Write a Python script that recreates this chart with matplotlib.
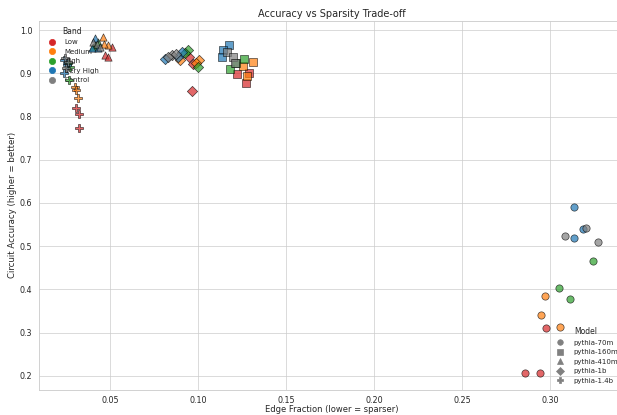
import numpy as np
import matplotlib
matplotlib.use("Agg")
import matplotlib.pyplot as plt
import seaborn as sns
from matplotlib.lines import Line2D

# categories
bands = ["Low", "Medium", "High", "Very High", "Control"]
models = ["pythia-70m", "pythia-160m", "pythia-410m", "pythia-1b", "pythia-1.4b"]

# each model has 3 runs per band, in the order of `bands`
point_bands = [b for b in bands for _ in range(3)]

# edge fraction / circuit accuracy
edge_70m = [0.2979, 0.2858, 0.2942, 0.2970, 0.2949, 0.3055, 0.3243, 0.3049, 0.3114,
            0.3136, 0.3136, 0.3189, 0.3205, 0.3083, 0.3271]
acc_70m = [0.310, 0.206, 0.206, 0.385, 0.340, 0.314, 0.466, 0.403, 0.377,
           0.590, 0.520, 0.539, 0.542, 0.523, 0.510]

edge_160m = [0.1223, 0.1288, 0.1273, 0.1314, 0.1257, 0.1280, 0.1263, 0.1182, 0.1216,
             0.1178, 0.1144, 0.1135, 0.1166, 0.1201, 0.1210]
acc_160m = [0.898, 0.900, 0.877, 0.927, 0.917, 0.894, 0.934, 0.911, 0.924,
            0.965, 0.954, 0.938, 0.949, 0.938, 0.924]

edge_410m = [0.0510, 0.0472, 0.0490, 0.0462, 0.0490, 0.0466, 0.0415, 0.0432, 0.0403,
             0.0415, 0.0396, 0.0434, 0.0403, 0.0426, 0.0443]
acc_410m = [0.961, 0.942, 0.938, 0.985, 0.965, 0.968, 0.965, 0.972, 0.961,
            0.981, 0.958, 0.958, 0.972, 0.968, 0.961]

edge_1b = [0.0951, 0.0970, 0.0968, 0.0898, 0.1006, 0.0989, 0.0945, 0.1002, 0.0926,
           0.0813, 0.0907, 0.0886, 0.0852, 0.0875, 0.0830]
acc_1b = [0.938, 0.921, 0.859, 0.931, 0.932, 0.924, 0.954, 0.914, 0.947,
          0.933, 0.949, 0.938, 0.942, 0.945, 0.938]

edge_1_4b = [0.0307, 0.0324, 0.0326, 0.0301, 0.0305, 0.0316, 0.0273, 0.0269, 0.0261,
             0.0239, 0.0239, 0.0256, 0.0244, 0.0261, 0.0250]
acc_1_4b = [0.819, 0.805, 0.773, 0.869, 0.861, 0.843, 0.915, 0.884, 0.924,
            0.900, 0.931, 0.919, 0.935, 0.926, 0.912]

edges = [edge_70m, edge_160m, edge_410m, edge_1b, edge_1_4b]
accs = [acc_70m, acc_160m, acc_410m, acc_1b, acc_1_4b]

band_colors = {"Low": "#d62728", "Medium": "#ff7f0e", "High": "#2ca02c",
               "Very High": "#1f77b4", "Control": "#7f7f7f"}
model_markers = {"pythia-70m": "o", "pythia-160m": "s", "pythia-410m": "^",
                 "pythia-1b": "D", "pythia-1.4b": "P"}

sns.set_theme(style="whitegrid")

fig = plt.figure(figsize=(12.34, 8.3), dpi=50)
ax = fig.add_axes([0.0632, 0.0602, 0.948, 0.890])

for model, xs, ys in zip(models, edges, accs):
    xs = np.array(xs)
    ys = np.array(ys)
    for band in bands:
        mask = np.array([b == band for b in point_bands])
        ax.scatter(xs[mask], ys[mask], s=110, c=band_colors[band],
                   marker=model_markers[model], alpha=0.7,
                   edgecolors="black", linewidths=1, zorder=6)

ax.set_xlim(0.0097, 0.342)
ax.set_ylim(0.167, 1.022)

ax.set_title("Accuracy vs Sparsity Trade-off", fontsize=14, pad=6)
ax.set_xlabel("Edge Fraction (lower = sparser)", fontsize=12, labelpad=0)
ax.set_ylabel("Circuit Accuracy (higher = better)", fontsize=12.5)
ax.tick_params(labelsize=11.5)
ax.tick_params(axis="x", pad=2)

# band legend (colour)
band_handles = [Line2D([0], [0], marker="o", linestyle="", color=band_colors[b],
                       markersize=9) for b in bands]
leg1 = ax.legend(band_handles, bands, title="Band", loc="upper left",
                 frameon=False, fontsize=10, title_fontsize=11)
ax.add_artist(leg1)

# model legend (marker shape)
model_handles = [Line2D([0], [0], marker=model_markers[m], linestyle="",
                        color="#808080", markersize=8) for m in models]
ax.legend(model_handles, models, title="Model", loc="lower right",
          frameon=False, fontsize=10, title_fontsize=11)

fig.savefig("out.png", dpi=50)
